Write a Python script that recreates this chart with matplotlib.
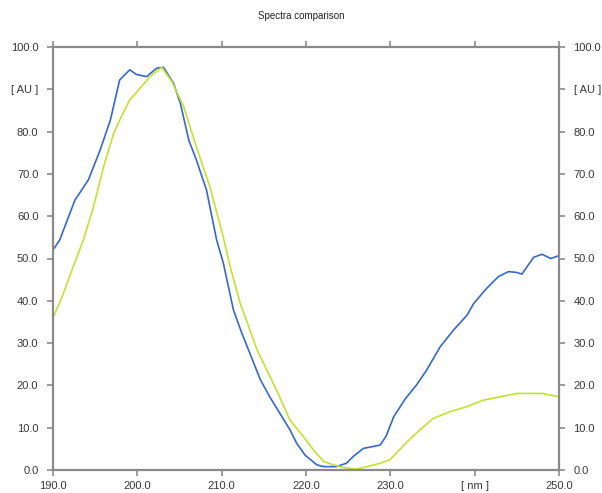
import numpy as np
import matplotlib.pyplot as plt

plt.rcParams["font.family"] = ["Liberation Sans", "DejaVu Sans"]

# wavelength grid [nm] and absorbance [AU] for both spectra
blue_nm = [190.0, 190.8, 192.6, 194.2, 195.6, 196.8, 197.9, 199.1, 199.9, 201.1,
           202.3, 203.1, 204.3, 205.1, 206.1, 207.0, 208.2, 209.4, 210.2, 211.4,
           212.4, 214.6, 215.7, 216.9, 218.1, 218.9, 219.9, 221.3, 222.1, 223.6,
           224.8, 225.6, 226.8, 228.8, 229.5, 230.4, 231.8, 233.1, 234.3, 235.9,
           237.5, 239.1, 239.9, 241.4, 242.8, 244.0, 245.0, 245.6, 247.0, 248.0,
           249.0, 249.9]
blue_au = [52.0, 54.4, 63.8, 68.6, 75.7, 82.7, 92.2, 94.6, 93.5, 93.0,
           95.0, 95.2, 91.4, 86.7, 78.0, 73.3, 66.2, 54.4, 48.9, 37.8,
           32.3, 21.3, 17.3, 13.4, 9.5, 6.3, 3.5, 1.2, 0.8, 0.8,
           1.6, 3.2, 5.1, 5.9, 8.0, 12.6, 16.9, 20.1, 23.6, 29.1,
           33.1, 36.6, 39.4, 42.9, 45.7, 46.9, 46.7, 46.3, 50.3, 51.0,
           50.0, 50.6]

green_nm = [190.0, 191.0, 192.2, 193.6, 194.8, 196.0, 197.2, 198.1, 199.1, 200.3,
            201.5, 202.9, 204.1, 205.5, 207.0, 208.6, 210.2, 211.0, 212.2, 214.2,
            216.5, 218.1, 219.7, 220.9, 222.1, 223.3, 224.4, 226.0, 227.2, 228.8,
            230.0, 232.0, 233.5, 235.1, 237.1, 239.1, 241.0, 243.0, 245.0, 248.0,
            250.0]
green_au = [36.0, 40.5, 47.0, 54.4, 62.2, 71.7, 79.6, 83.5, 87.5, 90.2,
            93.0, 95.2, 91.8, 85.9, 76.4, 67.0, 55.0, 48.1, 39.4, 28.4,
            18.9, 11.8, 7.9, 4.7, 2.0, 1.2, 0.6, 0.2, 0.8, 1.6,
            2.5, 6.7, 9.5, 12.2, 13.8, 15.0, 16.5, 17.3, 18.1, 18.1,
            17.3]

x_ticks = [190, 200, 210, 220, 230, 240, 250]
x_labels = ["190.0", "200.0", "210.0", "220.0", "230.0", "[ nm ]", "250.0"]
y_ticks = [0, 10, 20, 30, 40, 50, 60, 70, 80, 90, 100]
y_labels = ["0.0", "10.0", "20.0", "30.0", "40.0", "50.0", "60.0", "70.0",
            "80.0", "[ AU ]", "100.0"]

gray = "#8a8a8a"
txt = "#383838"

fig = plt.figure(figsize=(6.02, 4.93), dpi=100)
ax = fig.add_axes([53 / 602, 23 / 493, 506 / 602, 423 / 493])

ax.plot(blue_nm, blue_au, color="#3568cc", lw=1.2)
ax.plot(green_nm, green_au, color="#c2e232", lw=1.2)

ax.set_xlim(190, 250)
ax.set_ylim(0, 100)
ax.set_xticks(x_ticks)
ax.set_xticklabels(x_labels)
ax.set_yticks(y_ticks)
ax.set_yticklabels(y_labels)

for s in ax.spines.values():
    s.set_color(gray)
    s.set_linewidth(1.6)

ax.tick_params(axis="both", direction="out", color=gray, width=1.2, length=4,
               labelsize=8, labelcolor=txt)
ax.tick_params(axis="y", pad=6.5, right=True, labelright=True)
ax.tick_params(axis="x", pad=4, top=True, labeltop=False)

fig.text(0.5, 1 - 16 / 493, "Spectra comparison", ha="center", va="center",
         fontsize=7, color="#222222")

fig.savefig("out.png", dpi=100)
